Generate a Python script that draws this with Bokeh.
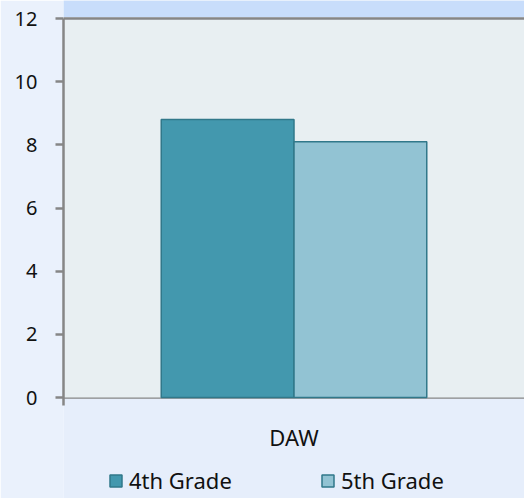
from bokeh.plotting import figure
from bokeh.models import (ColumnDataSource, Range1d, FactorRange, Legend, LegendItem,
                          BoxAnnotation, LabelSet)
from bokeh.core.properties import value
from bokeh.transform import dodge
from bokeh.embed import file_html
from bokeh.resources import INLINE

categories = ["DAW"]
grade4 = [8.8]
grade5 = [8.1]
series_names = ["4th Grade", "5th Grade"]
y_ticks = [0, 2, 4, 6, 8, 10, 12]
y_max = 12

src = ColumnDataSource(dict(cat=categories, g4=grade4, g5=grade5, base=[0] * len(categories)))

FONT = "Noto Sans"
W, H = 524, 498
TOP, LEFT = 18, 63
AXIS_PX = 379          # pixel height of the 0..12 value area
BELOW_PX = H - TOP - AXIS_PX
PX = y_max / AXIS_PX   # data units per pixel
y_lo = -BELOW_PX * PX
y_hi = y_max + TOP * PX

p = figure(width=W, height=H, output_backend="svg", toolbar_location=None,
           x_range=FactorRange(factors=categories, range_padding=0),
           y_range=Range1d(y_lo, y_hi), x_axis_location=None,
           min_border_left=LEFT, min_border_right=0, min_border_top=0, min_border_bottom=0)
p.border_fill_color = "#eaf1fc"
p.background_fill_color = "#e6eefb"
p.outline_line_color = None

p.add_layout(BoxAnnotation(bottom=0, top=y_max - 1.5 * PX, fill_color="#e8eff2", fill_alpha=1,
                           line_color=None, level="underlay"))
p.add_layout(BoxAnnotation(bottom=y_max + 1.5 * PX, fill_color="#c8ddfb", fill_alpha=1,
                           line_color=None, level="underlay"))

w = 0.288
r4 = p.vbar(x=dodge("cat", -w / 2, range=p.x_range), top="g4", width=w, source=src,
            fill_color="#4398ae", line_color="#31788a", line_width=1.5)
r5 = p.vbar(x=dodge("cat", w / 2, range=p.x_range), top="g5", width=w, source=src,
            fill_color="#92c3d3", line_color="#31788a", line_width=1.5)

p.xgrid.grid_line_color = None
p.ygrid.grid_line_color = "#868686"
p.ygrid.grid_line_width = 2.5
p.ygrid.ticker = y_ticks

p.yaxis.ticker = y_ticks
p.yaxis.bounds = (-0.25, y_max)
p.yaxis.axis_line_color = "#868686"
p.yaxis.axis_line_width = 2.5
p.yaxis.major_tick_line_color = "#868686"
p.yaxis.major_tick_line_width = 2.5
p.yaxis.major_tick_out = 8
p.yaxis.major_tick_in = 0
p.yaxis.minor_tick_line_color = None
p.yaxis.major_label_text_font = FONT
p.yaxis.major_label_text_font_size = "20px"
p.yaxis.major_label_text_color = "#111111"
p.yaxis.major_label_standoff = 18

p.add_layout(LabelSet(x="cat", y="base", text="cat", source=src, y_offset=-39,
                      text_align="center", text_baseline="middle",
                      text_font=value(FONT), text_font_size=value("22px"),
                      text_color=value("#111111")))

for r, name, xloc in [(r4, series_names[0], 45), (r5, series_names[1], 257)]:
    lg = Legend(items=[LegendItem(label=name, renderers=[r])], location=(xloc, 3),
                orientation="horizontal", padding=0, margin=0, border_line_color=None,
                background_fill_alpha=0, glyph_width=15, glyph_height=15, label_standoff=6,
                label_text_font=FONT, label_text_font_size="22px", label_text_color="#111111")
    p.add_layout(lg, "center")

open("out.html", "w").write(file_html(p, INLINE))
